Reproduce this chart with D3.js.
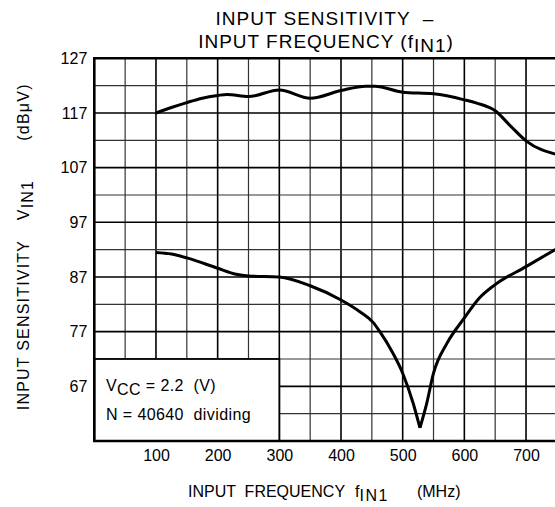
<!DOCTYPE html>
<html>
<head>
<meta charset="utf-8">
<script src="https://cdn.jsdelivr.net/npm/d3@7"></script>
<style>
  body { margin: 0; background: #fff; }
  svg text { font-family: "Liberation Sans", Arial, sans-serif; fill: #000; white-space: pre; }
</style>
</head>
<body>
<div id="chart"></div>
<script>
// values (MHz, dBuV)
const freqUpper = [100, 125, 150, 175, 200, 215, 250, 300, 350, 400, 440, 455, 500, 550, 600, 620, 650, 675, 700, 750];
const sensUpper = [117.0, 118.0, 118.9, 119.7, 120.2, 120.4, 120.0, 121.2, 119.7, 121.1, 121.9, 121.9, 120.8, 120.5, 119.4, 118.8, 117.4, 114.6, 111.9, 109.4];

const freqLower = [100, 125, 150, 200, 230, 250, 300, 350, 400, 430, 452, 463, 484, 500, 517, 528, 539, 550, 572, 600, 624, 650, 700, 750];
const sensLower = [91.5, 91.2, 90.5, 88.6, 87.5, 87.2, 87.0, 85.4, 82.8, 80.7, 78.7, 77.0, 73.1, 69.4, 63.9, 59.4, 63.9, 69.4, 74.9, 79.5, 83.1, 85.6, 88.9, 92.2];

const xTicks = [100, 200, 300, 400, 500, 600, 700];
const yTicks = [67, 77, 87, 97, 107, 117, 127];
const xGrid = d3.range(50, 801, 50);
const yGrid = d3.range(62, 127, 5);

const w = 555;
const h = 507;

const svg = d3.select('#chart')
              .append('svg')
              .attr('width', w)
              .attr('height', h);

const xScale = d3.scaleLinear()
                 .domain([0, 800])
                 .range([94.3, 587.7]);

const yScale = d3.scaleLinear()
                 .domain([57, 127])
                 .range([441, 58.3]);

// grid
svg.append('g')
   .selectAll('line')
   .data(xGrid)
   .enter()
   .append('line')
   .attr('x1', d => xScale(d))
   .attr('x2', d => xScale(d))
   .attr('y1', yScale(127))
   .attr('y2', yScale(57))
   .attr('stroke', d => d % 100 == 0 ? '#000' : '#333')
   .attr('stroke-width', d => d % 100 == 0 ? 1.6 : 1.2);

svg.append('g')
   .selectAll('line')
   .data(yGrid)
   .enter()
   .append('line')
   .attr('x1', xScale(0))
   .attr('x2', xScale(800))
   .attr('y1', d => yScale(d))
   .attr('y2', d => yScale(d))
   .attr('stroke', d => (d - 67) % 10 == 0 ? '#000' : '#333')
   .attr('stroke-width', d => (d - 67) % 10 == 0 ? 1.6 : 1.2);

// curves
const line = d3.line()
               .x(d => xScale(d[0]))
               .y(d => yScale(d[1]))
               .curve(d3.curveMonotoneX);

const upper = d3.zip(freqUpper, sensUpper);
const lower = d3.zip(freqLower, sensLower);
const minIdx = d3.minIndex(sensLower);

[upper, lower.slice(0, minIdx + 1), lower.slice(minIdx)].forEach(pts => {
    svg.append('path')
       .attr('d', line(pts))
       .attr('fill', 'none')
       .attr('stroke', '#000')
       .attr('stroke-width', 3)
       .attr('stroke-linejoin', 'round');
});

// legend box
svg.append('rect')
   .attr('x', xScale(0))
   .attr('y', yScale(72))
   .attr('width', xScale(300) - xScale(0))
   .attr('height', yScale(57) - yScale(72))
   .attr('fill', '#fff')
   .attr('stroke', '#000')
   .attr('stroke-width', 1.8);

const note1 = svg.append('text')
                 .attr('x', 106)
                 .attr('y', 391)
                 .style('font-size', '16px')
                 .style('letter-spacing', '0.4px');
note1.append('tspan').text('V');
note1.append('tspan').attr('dy', 4).text('CC');
note1.append('tspan').attr('dy', -4).text(' = 2.2  (V)');

svg.append('text')
   .attr('x', 106)
   .attr('y', 420)
   .style('font-size', '16px')
   .style('letter-spacing', '0.4px')
   .text('N = 40640  dividing');

// frame
svg.append('path')
   .attr('d', `M${xScale(800)},${yScale(127)}H${xScale(0)}V${yScale(57)}H${xScale(800)}`)
   .attr('fill', 'none')
   .attr('stroke', '#000')
   .attr('stroke-width', 2.6);

// axes (labels only)
const xAxis = d3.axisBottom(xScale).tickValues(xTicks).tickSize(0).tickPadding(9);
const yAxis = d3.axisLeft(yScale).tickValues(yTicks).tickSize(0).tickPadding(7);

svg.append('g')
   .attr('transform', `translate(0, ${yScale(57)})`)
   .call(xAxis)
   .call(g => g.select('.domain').remove())
   .selectAll('text')
   .style('font-size', '16px')
   .style('font-family', '"Liberation Sans", Arial, sans-serif')
   .attr('fill', '#000');

svg.append('g')
   .attr('transform', `translate(${xScale(0)}, 0)`)
   .call(yAxis)
   .call(g => g.select('.domain').remove())
   .selectAll('text')
   .style('font-size', '16px')
   .style('font-family', '"Liberation Sans", Arial, sans-serif')
   .attr('fill', '#000');

// title
svg.append('text')
   .attr('x', 325)
   .attr('y', 25)
   .attr('text-anchor', 'middle')
   .style('font-size', '19px')
   .style('letter-spacing', '1px')
   .text('INPUT SENSITIVITY  \u2013');

const t2 = svg.append('text')
              .attr('x', 326)
              .attr('y', 48)
              .attr('text-anchor', 'middle')
              .style('font-size', '19px')
              .style('letter-spacing', '1px');
t2.append('tspan').text('INPUT FREQUENCY (f');
t2.append('tspan').attr('dy', 4).text('IN1');
t2.append('tspan').attr('dy', -4).text(')');

// x axis title
const xt = svg.append('text')
              .attr('x', 188)
              .attr('y', 497)
              .style('font-size', '16px');
xt.append('tspan').text('INPUT  FREQUENCY');
xt.append('tspan').attr('dx', 10).text('f');
xt.append('tspan').attr('dy', 4).style('letter-spacing', '1.5px').text('IN1');
xt.append('tspan').attr('dy', -4).attr('dx', 28).text('(MHz)');

// y axis title, three pieces
const yTitle = (cy, build) => {
    const t = svg.append('text')
                 .attr('transform', `translate(29, ${cy}) rotate(-90)`)
                 .attr('text-anchor', 'middle')
                 .style('font-size', '16px')
                 .style('letter-spacing', '1.2px');
    build(t);
};
yTitle(325, t => t.text('INPUT SENSITIVITY'));
yTitle(200, t => {
    t.append('tspan').text('V');
    t.append('tspan').attr('dy', 4).text('IN1');
});
yTitle(112, t => t.text('(dB\u03bcV)'));
</script>
</body>
</html>
